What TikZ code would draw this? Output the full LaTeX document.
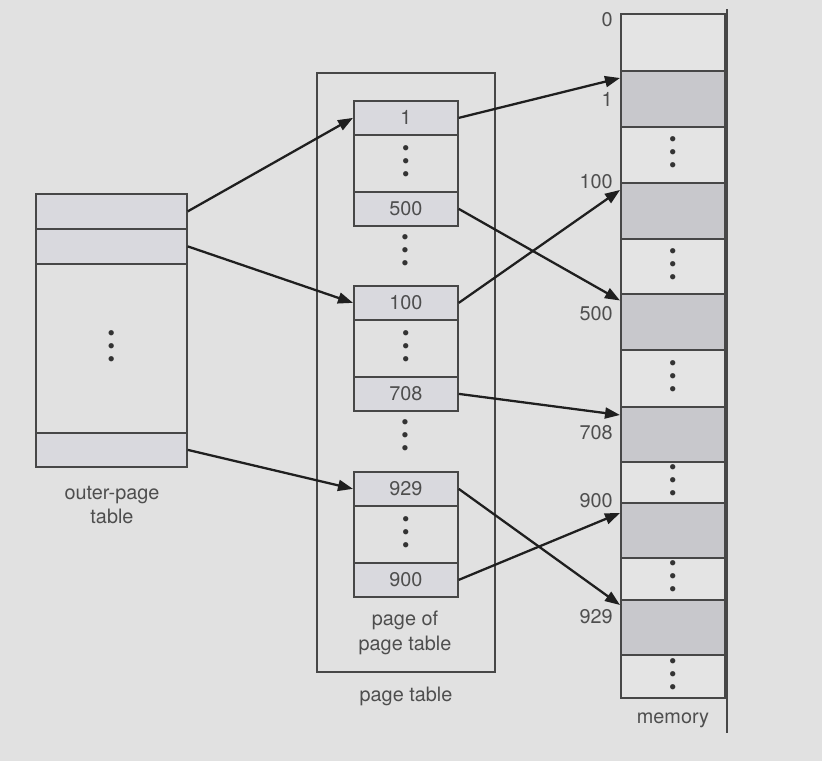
\documentclass[tikz,border=0pt]{standalone}
\usepackage{fontspec}
\setmainfont{TeX Gyre Heros}
\usepackage{xcolor}
\usepackage{tikz}
\usetikzlibrary{arrows.meta}
\definecolor{bgGray}{HTML}{E1E1E1}
\definecolor{cellBlue}{HTML}{D9D9DE}
\definecolor{memShade}{HTML}{C8C8CC}
\definecolor{memWhite}{HTML}{E4E4E4}
\definecolor{lineGray}{HTML}{474747}
\definecolor{textGray}{HTML}{4E4E4E}
\newcommand{\dotbul}{\hbox{\fontsize{12}{12}\selectfont\textcolor{black!80}{\textbullet}}}
\newcommand{\rowdots}{\vbox{\baselineskip=7.4pt\lineskiplimit=-20pt\dotbul\dotbul\dotbul}}

\begin{document}
\begin{tikzpicture}[
    x=0.02cm,y=-0.02cm,
    >={Triangle[length=0.3cm,width=0.22cm]},
    every node/.style={font=\fontsize{11.3}{14.2}\selectfont,text=textGray},
    cell/.style={draw=lineGray,line width=1pt,rectangle,inner sep=0pt,anchor=north west},
    ocell/.style={cell,minimum width=3.02cm},
    pcell/.style={cell,minimum width=2.08cm,minimum height=0.68cm,fill=cellBlue},
    pgap/.style={cell,minimum width=2.08cm,minimum height=1.14cm,fill=bgGray},
    mshade/.style={cell,minimum width=2.08cm,fill=memShade},
    mwhite/.style={cell,minimum width=2.08cm,fill=memWhite},
    addr/.style={anchor=east,inner sep=0pt},
    arr/.style={->,line width=1.3pt,draw=black!88},
    lab/.style={align=center}
  ]
  %% canvas
  \useasboundingbox[fill=bgGray] (0,0) rectangle (822,761);
  %% outer-page table
  \node[ocell,fill=cellBlue,minimum height=0.70cm] (o1) at (35,193) {};
  \node[ocell,fill=cellBlue,minimum height=0.70cm] (o2) at (35,228) {};
  \node[ocell,fill=bgGray,minimum height=3.38cm]   (o3) at (35,263) {\rowdots};
  \node[ocell,fill=cellBlue,minimum height=0.68cm] (o4) at (35,432) {};
  \node[lab] (olab) at (112,505) {outer-page\\table};
  %% page table frame
  \node[cell,draw=lineGray,minimum width=3.56cm,minimum height=11.98cm] (pt) at (316,72) {};
  \node[lab] (ptlab) at (406,696) {page table};
  %% pages of the page table
  \node[pcell] (p1)    at (353,100) {1};
  \node[pgap]  (p1g)   at (353,134) {\rowdots};
  \node[pcell] (p500)  at (353,191) {500};
  \node (pd1) at (405,253) {\rowdots};
  \node[pcell] (p100)  at (353,285) {100};
  \node[pgap]  (p100g) at (353,319) {\rowdots};
  \node[pcell] (p708)  at (353,376) {708};
  \node (pd2) at (405,438) {\rowdots};
  \node[pcell] (p929)  at (353,471) {929};
  \node[pgap]  (p929g) at (353,505) {\rowdots};
  \node[pcell] (p900)  at (353,562) {900};
  \node[lab] (pglab) at (405,633) {page of\\page table};
  %% memory
  \node[mwhite,minimum height=1.14cm] (m0)  at (620,13)  {};
  \node[mshade,minimum height=1.12cm] (m1)  at (620,70)  {};
  \node[mwhite,minimum height=1.12cm] (m2)  at (620,126) {\rowdots};
  \node[mshade,minimum height=1.12cm] (m3)  at (620,182) {};
  \node[mwhite,minimum height=1.10cm] (m4)  at (620,238) {\rowdots};
  \node[mshade,minimum height=1.12cm] (m5)  at (620,293) {};
  \node[mwhite,minimum height=1.14cm] (m6)  at (620,349) {\rowdots};
  \node[mshade,minimum height=1.10cm] (m7)  at (620,406) {};
  \node[mwhite,minimum height=0.82cm] (m8)  at (620,461) {\rowdots};
  \node[mshade,minimum height=1.10cm] (m9)  at (620,502) {};
  \node[mwhite,minimum height=0.84cm] (m10) at (620,557) {\rowdots};
  \node[mshade,minimum height=1.10cm] (m11) at (620,599) {};
  \node[mwhite,minimum height=0.86cm] (m12) at (620,654) {\rowdots};
  \coordinate (mtop) at (727,9);
  \coordinate (mbot) at (727,733);
  \draw[lineGray,line width=1.2pt] (mtop) -- (mbot);
  \node[lab] (mlab) at (673,720) {memory};
  %% addresses
  \node[addr] (a0)   at (613,20)  {0};
  \node[addr] (a1)   at (613,99)  {1};
  \node[addr] (a100) at (613,182) {100};
  \node[addr] (a500) at (613,314) {500};
  \node[addr] (a708) at (613,433) {708};
  \node[addr] (a900) at (613,501) {900};
  \node[addr] (a929) at (613,617) {929};
  %% outer table -> pages
  \draw[arr] (o1.east) -- (p1.west);
  \draw[arr] (o2.east) -- (p100.west);
  \draw[arr] (o4.east) -- (p929.west);
  %% pages -> frames
  \draw[arr] (p1.east)   -- ([yshift=-0.16cm]m1.north west);
  \draw[arr] (p500.east) -- ([yshift=-0.15cm]m5.north west);
  \draw[arr] (p100.east) -- ([yshift=-0.16cm]m3.north west);
  \draw[arr] (p708.east) -- ([yshift=-0.18cm]m7.north west);
  \draw[arr] (p929.east) -- ([yshift=-0.12cm]m11.north west);
  \draw[arr] (p900.east) -- ([yshift=-0.22cm]m9.north west);
\end{tikzpicture}
\end{document}
